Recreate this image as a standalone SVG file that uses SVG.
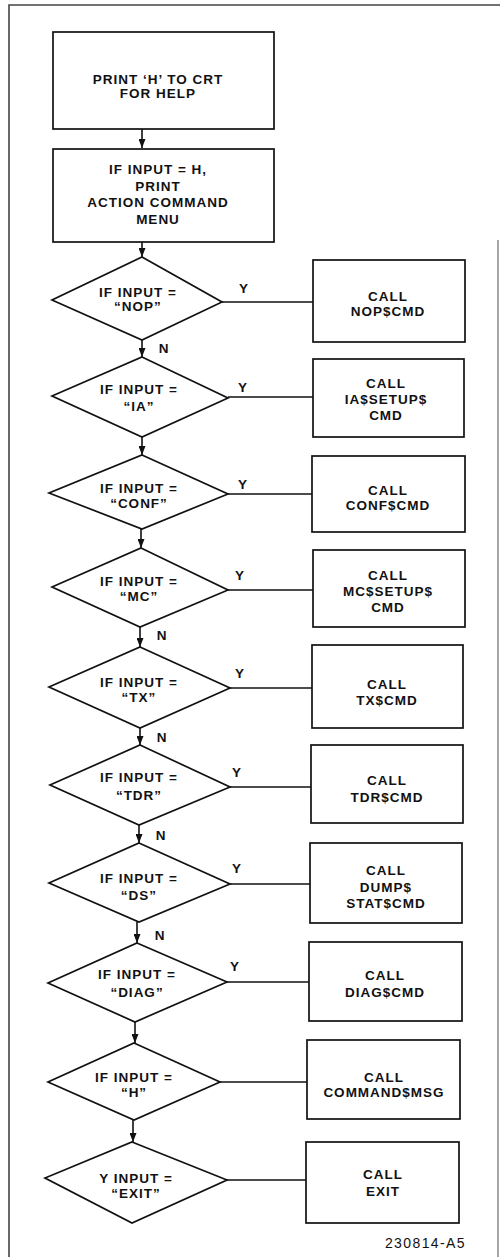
<svg xmlns="http://www.w3.org/2000/svg" width="500" height="1257" viewBox="0 0 500 1257">
<style>
.bg{fill:#ffffff}
.frame{fill:none;stroke:#444;stroke-width:1.6}
.shape{fill:#ffffff;stroke:#111;stroke-width:1.7}
.conn{fill:none;stroke:#111;stroke-width:1.6}
text{font-family:"Liberation Sans",Arial,Helvetica,sans-serif;font-size:13.5px;font-weight:bold;fill:#111;letter-spacing:1px;text-anchor:middle}
.lbl{font-size:13.5px}
.fig{font-weight:normal;font-size:14px;letter-spacing:1.4px;text-anchor:end}
</style>
<defs>
<marker id="arrd" markerUnits="userSpaceOnUse" markerWidth="7" markerHeight="9" viewBox="0 0 7 9" refX="3.5" refY="9" orient="0">
<path d="M0,0 L7,0 L3.5,9 Z" fill="#111"/>
</marker>
</defs>
<rect class="bg" x="0" y="0" width="500" height="1257"/>
<path class="frame" d="M9,1257 V5 H500"/>
<path class="frame" d="M498,240 V1257" stroke-opacity="0.6"/>

<g id="connectors">
<path class="conn" d="M142,129 V148" marker-end="url(#arrd)"/>
<path class="conn" d="M142,242 V257" marker-end="url(#arrd)"/>
<path class="conn" d="M142,340 V357" marker-end="url(#arrd)"/>
<path class="conn" d="M142,437 V455" marker-end="url(#arrd)"/>
<path class="conn" d="M141,529 V548" marker-end="url(#arrd)"/>
<path class="conn" d="M140,627 V647" marker-end="url(#arrd)"/>
<path class="conn" d="M140,728 V745" marker-end="url(#arrd)"/>
<path class="conn" d="M139,825 V843" marker-end="url(#arrd)"/>
<path class="conn" d="M137,922 V943" marker-end="url(#arrd)"/>
<path class="conn" d="M135,1022 V1043" marker-end="url(#arrd)"/>
<path class="conn" d="M133,1120 V1142" marker-end="url(#arrd)"/>
<path class="conn" d="M222,302 H313"/>
<path class="conn" d="M228,397 H313"/>
<path class="conn" d="M228,494 H312"/>
<path class="conn" d="M228,590 H313"/>
<path class="conn" d="M230,688 H312"/>
<path class="conn" d="M230,787 H311"/>
<path class="conn" d="M230,884 H310"/>
<path class="conn" d="M227,982 H309"/>
<path class="conn" d="M220,1082 H307"/>
<path class="conn" d="M227,1180 H306"/>
<text class="lbl" x="244" y="293">Y</text>
<text class="lbl" x="164" y="353">N</text>
<text class="lbl" x="243" y="392">Y</text>
<text class="lbl" x="243" y="489">Y</text>
<text class="lbl" x="240" y="580">Y</text>
<text class="lbl" x="162" y="640">N</text>
<text class="lbl" x="240" y="678">Y</text>
<text class="lbl" x="162" y="742">N</text>
<text class="lbl" x="237" y="777">Y</text>
<text class="lbl" x="161" y="840">N</text>
<text class="lbl" x="237" y="873">Y</text>
<text class="lbl" x="160" y="940">N</text>
<text class="lbl" x="235" y="971">Y</text>
</g>

<g id="box-print-h">
<rect class="shape" x="53" y="32" width="221" height="97"/>
<text x="158" y="84">PRINT ‘H’ TO CRT</text>
<text x="158" y="98">FOR HELP</text>
</g>
<g id="box-menu">
<rect class="shape" x="53" y="149" width="221" height="93"/>
<text x="158" y="174">IF INPUT = H,</text>
<text x="158" y="191">PRINT</text>
<text x="158" y="207">ACTION COMMAND</text>
<text x="158" y="224">MENU</text>
</g>

<g id="dec-nop">
<polygon class="shape" points="142,257 222,302 142,340 52,300"/>
<text x="138" y="297">IF INPUT =</text>
<text x="138" y="311">“NOP”</text>
</g>
<g id="call-nop">
<rect class="shape" x="313" y="260" width="152" height="82"/>
<text x="388" y="301">CALL</text>
<text x="388" y="316">NOP$CMD</text>
</g>

<g id="dec-ia">
<polygon class="shape" points="142,357 228,398 142,437 52,396"/>
<text x="139" y="394">IF INPUT =</text>
<text x="139" y="411">“IA”</text>
</g>
<g id="call-ia">
<rect class="shape" x="313" y="359" width="151" height="78"/>
<text x="386" y="388">CALL</text>
<text x="386" y="404">IA$SETUP$</text>
<text x="386" y="420">CMD</text>
</g>

<g id="dec-conf">
<polygon class="shape" points="142,455 228,494 142,529 49,493"/>
<text x="139" y="493">IF INPUT =</text>
<text x="139" y="508">“CONF”</text>
</g>
<g id="call-conf">
<rect class="shape" x="312" y="456" width="153" height="76"/>
<text x="388" y="495">CALL</text>
<text x="388" y="510">CONF$CMD</text>
</g>

<g id="dec-mc">
<polygon class="shape" points="141,548 228,590 140,627 52,587"/>
<text x="139" y="586">IF INPUT =</text>
<text x="139" y="601">“MC”</text>
</g>
<g id="call-mc">
<rect class="shape" x="313" y="550" width="152" height="77"/>
<text x="388" y="580">CALL</text>
<text x="388" y="596">MC$SETUP$</text>
<text x="388" y="612">CMD</text>
</g>

<g id="dec-tx">
<polygon class="shape" points="140,647 230,688 140,728 49,687"/>
<text x="139" y="687">IF INPUT =</text>
<text x="139" y="702">“TX”</text>
</g>
<g id="call-tx">
<rect class="shape" x="312" y="645" width="151" height="83"/>
<text x="387" y="689">CALL</text>
<text x="387" y="705">TX$CMD</text>
</g>

<g id="dec-tdr">
<polygon class="shape" points="140,745 230,787 139,825 50,785"/>
<text x="139" y="782">IF INPUT =</text>
<text x="139" y="800">“TDR”</text>
</g>
<g id="call-tdr">
<rect class="shape" x="311" y="745" width="152" height="78"/>
<text x="387" y="785">CALL</text>
<text x="387" y="802">TDR$CMD</text>
</g>

<g id="dec-ds">
<polygon class="shape" points="139,843 230,884 139,922 49,883"/>
<text x="139" y="883">IF INPUT =</text>
<text x="139" y="900">“DS”</text>
</g>
<g id="call-ds">
<rect class="shape" x="310" y="843" width="152" height="80"/>
<text x="386" y="875">CALL</text>
<text x="386" y="892">DUMP$</text>
<text x="386" y="908">STAT$CMD</text>
</g>

<g id="dec-diag">
<polygon class="shape" points="137,943 227,982 135,1022 48,983"/>
<text x="137" y="979">IF INPUT =</text>
<text x="137" y="997">“DIAG”</text>
</g>
<g id="call-diag">
<rect class="shape" x="309" y="942" width="153" height="79"/>
<text x="385" y="980">CALL</text>
<text x="385" y="997">DIAG$CMD</text>
</g>

<g id="dec-h">
<polygon class="shape" points="134,1043 220,1082 134,1120 48,1082"/>
<text x="134" y="1082">IF INPUT =</text>
<text x="134" y="1097">“H”</text>
</g>
<g id="call-h">
<rect class="shape" x="307" y="1040" width="153" height="79"/>
<text x="384" y="1082">CALL</text>
<text x="384" y="1097">COMMAND$MSG</text>
</g>

<g id="dec-exit">
<polygon class="shape" points="132,1142 227,1180 132,1223 45,1178"/>
<text x="136" y="1183">Y INPUT =</text>
<text x="136" y="1198">“EXIT”</text>
</g>
<g id="call-exit">
<rect class="shape" x="306" y="1142" width="153" height="81"/>
<text x="383" y="1179">CALL</text>
<text x="383" y="1196">EXIT</text>
</g>

<text class="fig" x="466" y="1248">230814-A5</text>
</svg>
